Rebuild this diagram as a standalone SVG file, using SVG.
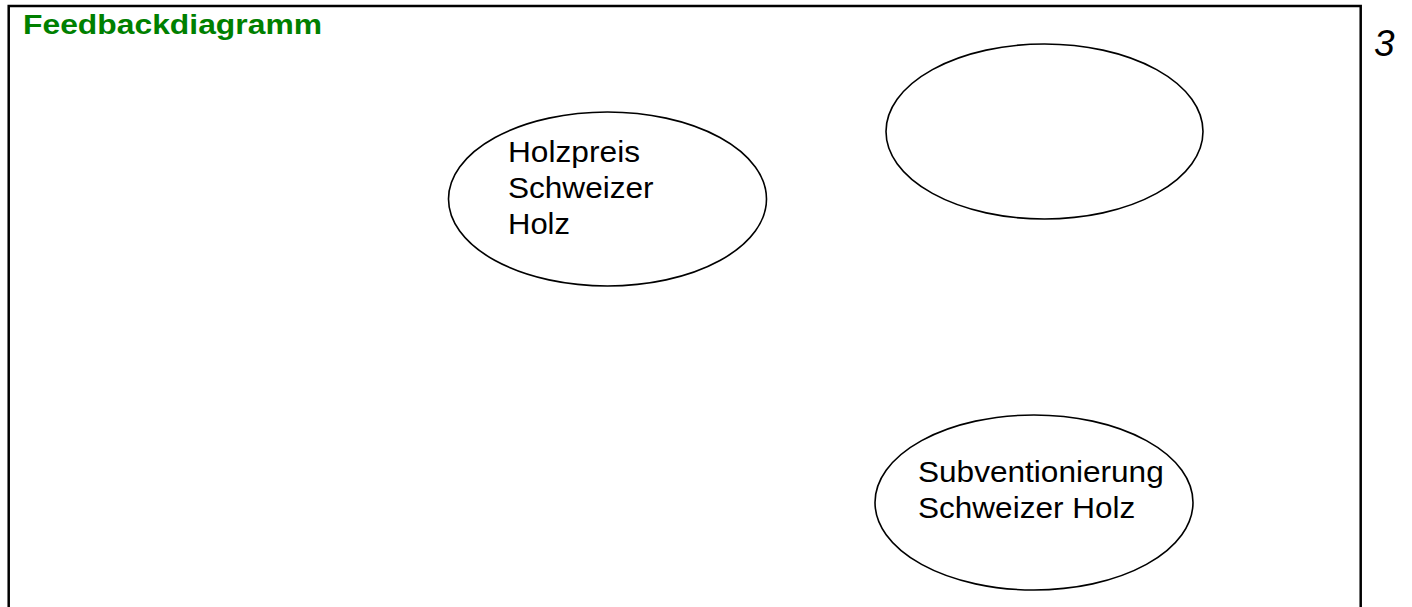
<svg xmlns="http://www.w3.org/2000/svg" width="1412" height="607" viewBox="0 0 1412 607">
<style>
.frame{fill:none;stroke:#000;stroke-width:2.5}
.node{fill:#fff;stroke:#000;stroke-width:1.6}
.lbl{font-family:"Liberation Sans",Arial,sans-serif;font-size:29px;fill:#000}
.title{font-family:"Liberation Sans",Arial,sans-serif;font-size:28px;font-weight:bold;fill:#008000}
.num{font-family:"Liberation Sans",Arial,sans-serif;font-size:37px;font-style:italic;fill:#000}
</style>
<rect width="1412" height="607" fill="#fff"/>
<rect class="frame" x="8.7" y="6" width="1352" height="640"/>
<text class="title" x="23" y="34" textLength="299" lengthAdjust="spacingAndGlyphs">Feedbackdiagramm</text>
<text class="num" x="1374" y="56">3</text>
<g id="connectors"></g>
<g id="node-holzpreis">
<ellipse class="node" cx="607.5" cy="199" rx="159" ry="87"/>
<text class="lbl" x="508" y="162" textLength="132" lengthAdjust="spacingAndGlyphs">Holzpreis</text>
<text class="lbl" x="508" y="198" textLength="145.5" lengthAdjust="spacingAndGlyphs">Schweizer</text>
<text class="lbl" x="508" y="234" textLength="62" lengthAdjust="spacingAndGlyphs">Holz</text>
</g>
<g id="node-empty">
<ellipse class="node" cx="1044.5" cy="131.5" rx="158.5" ry="87.5"/>
</g>
<g id="node-subvention">
<ellipse class="node" cx="1034" cy="502.5" rx="159" ry="87.5"/>
<text class="lbl" x="918" y="482" textLength="245.7" lengthAdjust="spacingAndGlyphs">Subventionierung</text>
<text class="lbl" x="918" y="518" textLength="217.3" lengthAdjust="spacingAndGlyphs">Schweizer Holz</text>
</g>
</svg>
